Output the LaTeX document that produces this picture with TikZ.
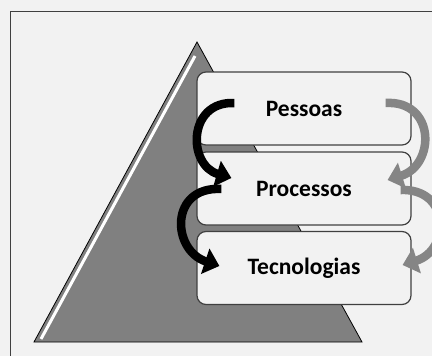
\documentclass[tikz,border=0pt]{standalone}
\usepackage{fontspec}
\setmainfont{Carlito}
\usetikzlibrary{arrows.meta}
\definecolor{bggray}{HTML}{F2F2F2}
\definecolor{pyrgray}{HTML}{808080}
\definecolor{linegray}{HTML}{404040}
\definecolor{arrowgray}{HTML}{858585}
\tikzset{
  layer/.style={draw=linegray,line width=1.2pt,rounded corners=9pt,fill=bggray,
    minimum width=214pt,minimum height=73pt,font=\fontsize{23.5}{27}\selectfont\bfseries},
  flowarrow/.style={line width=8.5pt,-{Triangle[length=15pt,width=26pt]}},
}

\begin{document}
\begin{tikzpicture}[x=1pt,y=-1pt]
      \useasboundingbox (0,0) rectangle (432,356);
      \fill[bggray] (0,0) rectangle (432,356);
      \clip (0,0) rectangle (432,356);
      \draw[linegray,line width=1pt] (10,380) -- (10,11) -- (460,11);

      % pyramid
      \fill[pyrgray,draw=black,line width=0.8pt] (197,42) -- (362,342) -- (34,342) -- cycle;
      \draw[white,line width=3pt] (195,56) -- (41,339);

      \node[layer](pessoas) at (304,108.5) {Pessoas};
      \node[layer](processos) at (304,188.5) {Processos};
      \node[layer](tecnologias) at (304,268) {Tecnologias};

      % left arrows
      \draw[flowarrow,black] ([xshift=38pt,yshift=5.5pt]pessoas.west)
        .. controls +(-47,-2) and +(-44,-13) .. ([xshift=35pt,yshift=10.5pt]processos.west);
      \draw[flowarrow,black] ([xshift=25pt,yshift=-0.5pt]processos.west)
        .. controls +(-52,-3) and +(-48,-16) .. ([xshift=23pt,yshift=2pt]tecnologias.west);

      % right arrows
      \draw[flowarrow,arrowgray] ([xshift=-26pt,yshift=5.5pt]pessoas.east)
        .. controls +(50,-3) and +(48,-15) .. ([xshift=-24pt,yshift=8.5pt]processos.east);
      \draw[flowarrow,arrowgray] ([xshift=-11pt,yshift=-1.5pt]processos.east)
        .. controls +(50,-2) and +(48,-15) .. ([xshift=-9pt,yshift=3pt]tecnologias.east);
\end{tikzpicture}
\end{document}
